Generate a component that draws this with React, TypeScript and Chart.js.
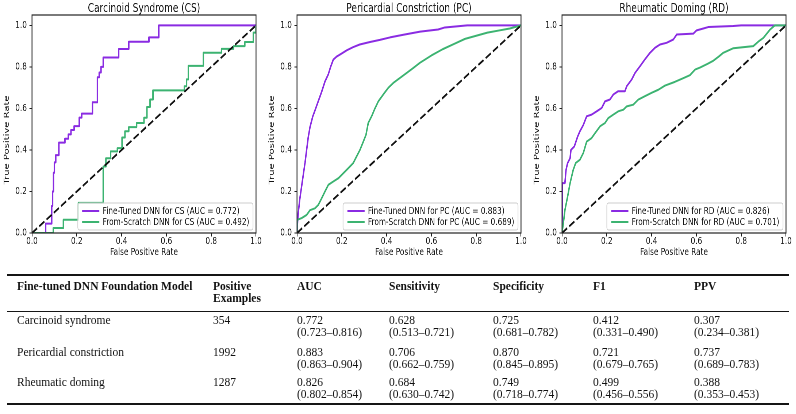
import React, { useEffect, useRef } from "react";
import { Chart, registerables } from "chart.js";

Chart.register(...registerables);

// ---------- chart data ----------
const TITLES = ["Carcinoid Syndrome (CS)", "Pericardial Constriction (PC)", "Rheumatic Doming (RD)"];
const X_TITLE = "False Positive Rate";
const Y_TITLE = "True Positive Rate";
const X_TICKS = [0, 0.2, 0.4, 0.6, 0.8, 1.0];
const Y_TICKS = [0, 0.2, 0.4, 0.6, 0.8, 1.0];
const TICK_LABELS = ["0.0", "0.2", "0.4", "0.6", "0.8", "1.0"];
const FT_LABELS = [
  "Fine-Tuned DNN for CS (AUC = 0.772)",
  "Fine-Tuned DNN for PC (AUC = 0.883)",
  "Fine-Tuned DNN for RD (AUC = 0.826)",
];
const FS_LABELS = [
  "From-Scratch DNN for CS (AUC = 0.492)",
  "From-Scratch DNN for PC (AUC = 0.689)",
  "From-Scratch DNN for RD (AUC = 0.701)",
];

const CS_FT_FPR = [0, 0.061, 0.061, 0.088, 0.088, 0.092, 0.092, 0.096, 0.096, 0.1, 0.1, 0.106, 0.106, 0.12, 0.12, 0.147, 0.147, 0.162, 0.162, 0.174, 0.174, 0.188, 0.188, 0.211, 0.211, 0.222, 0.222, 0.27, 0.27, 0.292, 0.292, 0.3, 0.3, 0.308, 0.308, 0.318, 0.318, 0.387, 0.387, 0.432, 0.432, 0.522, 0.522, 0.566, 0.566, 1.0];
const CS_FT_TPR = [0, 0, 0.045, 0.045, 0.13, 0.13, 0.2, 0.2, 0.29, 0.29, 0.34, 0.34, 0.375, 0.375, 0.435, 0.435, 0.454, 0.454, 0.475, 0.475, 0.496, 0.496, 0.515, 0.515, 0.556, 0.556, 0.575, 0.575, 0.63, 0.63, 0.75, 0.75, 0.773, 0.773, 0.8, 0.8, 0.845, 0.845, 0.886, 0.886, 0.921, 0.921, 0.942, 0.942, 1.0, 1.0];

const CS_FS_FPR = [0, 0.095, 0.095, 0.14, 0.14, 0.207, 0.207, 0.318, 0.318, 0.33, 0.33, 0.351, 0.351, 0.381, 0.381, 0.402, 0.402, 0.415, 0.415, 0.432, 0.432, 0.467, 0.467, 0.5, 0.5, 0.513, 0.513, 0.527, 0.527, 0.54, 0.54, 0.68, 0.68, 0.69, 0.69, 0.698, 0.698, 0.765, 0.765, 0.846, 0.846, 0.9, 0.9, 0.95, 0.95, 0.988, 0.988, 1.0, 1.0];
const CS_FS_TPR = [0, 0, 0.024, 0.024, 0.064, 0.064, 0.145, 0.145, 0.32, 0.32, 0.36, 0.36, 0.393, 0.393, 0.409, 0.409, 0.46, 0.46, 0.49, 0.49, 0.51, 0.51, 0.53, 0.53, 0.555, 0.555, 0.607, 0.607, 0.643, 0.643, 0.687, 0.687, 0.707, 0.707, 0.74, 0.74, 0.805, 0.805, 0.868, 0.868, 0.887, 0.887, 0.9, 0.9, 0.92, 0.92, 0.965, 0.965, 1.0];

const PC_FT_FPR = [0, 0.003, 0.006, 0.012, 0.02, 0.028, 0.036, 0.043, 0.05, 0.058, 0.07, 0.08, 0.095, 0.11, 0.125, 0.14, 0.15, 0.162, 0.177, 0.2, 0.222, 0.25, 0.28, 0.326, 0.37, 0.415, 0.475, 0.55, 0.63, 0.66, 0.76, 1.0];
const PC_FT_TPR = [0, 0.06, 0.1, 0.16, 0.22, 0.28, 0.34, 0.4, 0.46, 0.51, 0.56, 0.59, 0.635, 0.68, 0.73, 0.765, 0.8, 0.835, 0.85, 0.865, 0.88, 0.895, 0.908, 0.92, 0.93, 0.942, 0.955, 0.97, 0.98, 0.99, 1.0, 1.0];

const PC_FS_FPR = [0, 0, 0.021, 0.043, 0.058, 0.08, 0.095, 0.11, 0.125, 0.14, 0.162, 0.185, 0.207, 0.229, 0.251, 0.266, 0.281, 0.296, 0.308, 0.318, 0.333, 0.348, 0.363, 0.385, 0.408, 0.43, 0.46, 0.49, 0.519, 0.549, 0.6, 0.65, 0.7, 0.75, 0.8, 0.85, 0.9, 0.95, 1.0];
const PC_FS_TPR = [0, 0.063, 0.072, 0.087, 0.11, 0.119, 0.135, 0.167, 0.2, 0.232, 0.248, 0.264, 0.288, 0.312, 0.337, 0.369, 0.4, 0.44, 0.473, 0.53, 0.562, 0.6, 0.634, 0.667, 0.7, 0.723, 0.747, 0.771, 0.795, 0.82, 0.855, 0.885, 0.91, 0.935, 0.95, 0.965, 0.975, 0.985, 1.0];

const RD_FT_FPR = [0, 0.0015, 0.013, 0.018, 0.025, 0.036, 0.04, 0.055, 0.07, 0.08, 0.095, 0.11, 0.132, 0.155, 0.177, 0.192, 0.214, 0.229, 0.251, 0.281, 0.289, 0.311, 0.326, 0.348, 0.37, 0.393, 0.415, 0.4375, 0.467, 0.497, 0.512, 0.586, 0.601, 0.631, 0.653, 0.765, 0.8, 1.0];
const RD_FT_TPR = [0, 0.24, 0.24, 0.304, 0.337, 0.36, 0.4, 0.417, 0.465, 0.49, 0.52, 0.562, 0.57, 0.586, 0.602, 0.634, 0.643, 0.667, 0.683, 0.683, 0.707, 0.739, 0.771, 0.803, 0.836, 0.868, 0.892, 0.908, 0.916, 0.932, 0.956, 0.96, 0.976, 0.985, 0.992, 0.997, 1.0, 1.0];

const RD_FS_FPR = [0, 0.006, 0.013, 0.025, 0.036, 0.05, 0.061, 0.08, 0.095, 0.11, 0.132, 0.147, 0.17, 0.192, 0.207, 0.229, 0.251, 0.274, 0.289, 0.318, 0.341, 0.37, 0.4, 0.43, 0.46, 0.504, 0.54, 0.571, 0.594, 0.616, 0.65, 0.676, 0.7, 0.72, 0.765, 0.854, 0.88, 0.899, 0.929, 0.95, 1.0];
const RD_FS_TPR = [0, 0.047, 0.11, 0.175, 0.24, 0.304, 0.337, 0.353, 0.385, 0.44, 0.457, 0.48, 0.514, 0.53, 0.554, 0.57, 0.586, 0.594, 0.61, 0.618, 0.643, 0.659, 0.675, 0.69, 0.71, 0.728, 0.745, 0.76, 0.787, 0.797, 0.815, 0.83, 0.85, 0.868, 0.89, 0.9, 0.925, 0.94, 0.98, 1.0, 1.0];

const CHANCE_X = [0, 1];
const CHANCE_Y = [0, 1];

// ---------- table data ----------
const TABLE_HEADERS = ["Fine-tuned DNN Foundation Model", "Positive\nExamples", "AUC", "Sensitivity", "Specificity", "F1", "PPV"];
const MODELS = ["Carcinoid syndrome", "Pericardial constriction", "Rheumatic doming"];
const POSITIVES = [354, 1992, 1287];
const AUC = [0.772, 0.883, 0.826];
const AUC_CI = [[0.723, 0.816], [0.863, 0.904], [0.802, 0.854]];
const SENS = [0.628, 0.706, 0.684];
const SENS_CI = [[0.513, 0.721], [0.662, 0.759], [0.630, 0.742]];
const SPEC = [0.725, 0.870, 0.749];
const SPEC_CI = [[0.681, 0.782], [0.845, 0.895], [0.718, 0.774]];
const F1 = [0.412, 0.721, 0.499];
const F1_CI = [[0.331, 0.490], [0.679, 0.765], [0.456, 0.556]];
const PPV = [0.307, 0.737, 0.388];
const PPV_CI = [[0.234, 0.381], [0.689, 0.783], [0.353, 0.453]];

// ---------- layout / style ----------
const SQ = 0.73; // horizontal squeeze of the plot images
const CW = 363; // canvas width (unsqueezed)
const CH = 262;
const CHART_LEFTS = [0, 265, 530];
const PLOT_LEFT = 32 / SQ;
const PLOT_RIGHT = 256 / SQ;
const PLOT_BOTTOM = 233;
const PURPLE = "#8a2be2";
const GREEN = "#3cb371";
const TEXT = "#151515";
const FONT = "'DejaVu Sans', sans-serif";

const COL_X = [17, 213, 297, 389, 493, 593, 694];
const HEADER_TOP = 279.5;
const ROW_TOPS = [314, 345.5, 376];

function pts(xs: number[], ys: number[]) {
  return xs.map((x, i) => ({ x, y: ys[i] }));
}

const CHART_SERIES = [
  { ftX: CS_FT_FPR, ftY: CS_FT_TPR, fsX: CS_FS_FPR, fsY: CS_FS_TPR },
  { ftX: PC_FT_FPR, ftY: PC_FT_TPR, fsX: PC_FS_FPR, fsY: PC_FS_TPR },
  { ftX: RD_FT_FPR, ftY: RD_FT_TPR, fsX: RD_FS_FPR, fsY: RD_FS_TPR },
];

const framePlugin = {
  id: "frame",
  afterDatasetsDraw(chart: any) {
    const { ctx, chartArea: a } = chart;
    ctx.save();
    ctx.strokeStyle = "#222";
    ctx.lineWidth = 1.2;
    ctx.strokeRect(a.left, a.top, a.right - a.left, a.bottom - a.top);
    ctx.restore();
  },
};

const yTitlePlugin = {
  id: "ytitle",
  afterDraw(chart: any) {
    const { ctx } = chart;
    ctx.save();
    ctx.translate(7 / SQ, 140);
    ctx.rotate(-Math.PI / 2);
    ctx.font = `10px ${FONT}`;
    ctx.fillStyle = TEXT;
    ctx.textAlign = "center";
    ctx.textBaseline = "middle";
    ctx.fillText(Y_TITLE, 0, 0);
    ctx.restore();
  },
};

const boxLegendPlugin = {
  id: "boxlegend",
  afterDraw(chart: any) {
    const { ctx, chartArea: a } = chart;
    const items = chart.data.datasets.filter((d: any) => d.label).sort((p: any, q: any) => q.order - p.order);
    ctx.save();
    ctx.font = `10px ${FONT}`;
    const textW = Math.max(...items.map((d: any) => ctx.measureText(d.label).width));
    const padL = 6, handle = 23.5, gap = 4.5, padR = 5, rowH = 11, padV = 8;
    const w = padL + handle + gap + textW + padR;
    const h = padV * 2 + rowH * (items.length - 1);
    const right = a.right - 4.1;
    const bottom = a.bottom - 3;
    const left = right - w;
    const top = bottom - h;
    ctx.beginPath();
    ctx.roundRect(left, top, w, h, 2.5);
    ctx.fillStyle = "rgba(255,255,255,0.8)";
    ctx.fill();
    ctx.strokeStyle = "#cccccc";
    ctx.lineWidth = 1;
    ctx.stroke();
    items.forEach((d: any, i: number) => {
      const y = top + padV + i * rowH;
      ctx.beginPath();
      ctx.moveTo(left + padL, y);
      ctx.lineTo(left + padL + handle, y);
      ctx.strokeStyle = d.borderColor;
      ctx.lineWidth = 2;
      ctx.stroke();
      ctx.fillStyle = TEXT;
      ctx.textAlign = "left";
      ctx.textBaseline = "middle";
      ctx.fillText(d.label, left + padL + handle + gap, y + 0.5);
    });
    ctx.restore();
  },
};

function makeConfig(i: number): any {
  const s = CHART_SERIES[i];
  const tickFont = { family: FONT, size: 10, lineHeight: 1 };
  return {
    type: "scatter",
    data: {
      datasets: [
        {
          label: "",
          data: pts(CHANCE_X, CHANCE_Y),
          showLine: true,
          borderColor: "#111111",
          borderWidth: 2,
          borderDash: [8.5, 3.5],
          pointRadius: 0,
          order: 0,
        },
        {
          label: FS_LABELS[i],
          data: pts(s.fsX, s.fsY),
          showLine: true,
          borderColor: GREEN,
          borderWidth: 2,
          borderJoinStyle: "round",
          pointRadius: 0,
          order: 1,
        },
        {
          label: FT_LABELS[i],
          data: pts(s.ftX, s.ftY),
          showLine: true,
          borderColor: PURPLE,
          borderWidth: 2,
          borderJoinStyle: "round",
          pointRadius: 0,
          order: 2,
        },
      ],
    },
    options: {
      animation: false,
      responsive: false,
      maintainAspectRatio: false,
      devicePixelRatio: 2,
      layout: { autoPadding: false, padding: { left: 0, right: CW - PLOT_RIGHT, top: 0, bottom: 0 } },
      plugins: {
        legend: { display: false },
        tooltip: { enabled: false },
        title: {
          display: true,
          text: TITLES[i],
          fullSize: false,
          color: TEXT,
          font: { family: FONT, size: 12.3, weight: "normal", lineHeight: "12px" },
          padding: { top: 3, bottom: 0 },
        },
      },
      scales: {
        x: {
          type: "linear",
          min: 0,
          max: 1,
          afterBuildTicks: (sc: any) => {
            sc.ticks = X_TICKS.map((v) => ({ value: v }));
          },
          afterFit: (sc: any) => {
            sc.height = CH - PLOT_BOTTOM;
          },
          ticks: {
            callback: (_v: any, idx: number) => TICK_LABELS[idx],
            color: TEXT,
            font: tickFont,
            padding: 0,
            maxRotation: 0,
            autoSkip: false,
          },
          grid: { display: true, drawOnChartArea: false, drawTicks: true, tickLength: 3.5, color: "#222" },
          border: { display: false },
          title: {
            display: true,
            text: X_TITLE,
            color: TEXT,
            font: { family: FONT, size: 10, lineHeight: 1.2 },
            padding: { top: 0, bottom: 3.7 },
          },
        },
        y: {
          type: "linear",
          min: 0,
          max: 1.05,
          afterBuildTicks: (sc: any) => {
            sc.ticks = Y_TICKS.map((v) => ({ value: v }));
          },
          afterFit: (sc: any) => {
            sc.width = PLOT_LEFT;
          },
          ticks: {
            callback: (_v: any, idx: number) => TICK_LABELS[idx],
            color: TEXT,
            font: tickFont,
            padding: 3.5,
            autoSkip: false,
          },
          grid: { display: true, drawOnChartArea: false, drawTicks: true, tickLength: 3.5, color: "#222" },
          border: { display: false },
          title: { display: false },
        },
      },
    },
    plugins: [framePlugin, yTitlePlugin, boxLegendPlugin],
  };
}

function RocChart({ index }: { index: number }) {
  const ref = useRef<HTMLCanvasElement | null>(null);
  useEffect(() => {
    if (!ref.current) return;
    const chart = new Chart(ref.current, makeConfig(index));
    return () => chart.destroy();
  }, [index]);
  return (
    <div
      style={{
        position: "absolute",
        left: CHART_LEFTS[index],
        top: 0,
        width: CW,
        height: CH,
        transform: `scaleX(${SQ})`,
        transformOrigin: "0 0",
      }}
    >
      <canvas ref={ref} width={CW} height={CH} style={{ display: "block", width: CW, height: CH }} />
    </div>
  );
}

const fmt = (v: number) => v.toFixed(3);
const fmtCI = (ci: number[]) => `(${ci[0].toFixed(3)}–${ci[1].toFixed(3)})`;

function Cell({ x, y, bold, lines }: { x: number; y: number; bold?: boolean; lines: string[] }) {
  return (
    <div
      style={{
        position: "absolute",
        left: x,
        top: y,
        fontWeight: bold ? "bold" : "normal",
        whiteSpace: "nowrap",
        lineHeight: "12px",
      }}
    >
      {lines.map((l, k) => (
        <div key={k}>{l}</div>
      ))}
    </div>
  );
}

function MetricsTable() {
  const rows = MODELS.map((m, r) => [
    [m],
    [String(POSITIVES[r])],
    [fmt(AUC[r]), fmtCI(AUC_CI[r])],
    [fmt(SENS[r]), fmtCI(SENS_CI[r])],
    [fmt(SPEC[r]), fmtCI(SPEC_CI[r])],
    [fmt(F1[r]), fmtCI(F1_CI[r])],
    [fmt(PPV[r]), fmtCI(PPV_CI[r])],
  ]);
  const rule = (top: number, h: number) => (
    <div style={{ position: "absolute", left: 7, width: 782, top, height: h, background: "#151515" }} />
  );
  return (
    <div style={{ position: "absolute", left: 0, top: 0, width: 796, height: 414, fontFamily: "'Liberation Serif', 'Times New Roman', serif", fontSize: 11.5, color: "#111" }}>
      {rule(274.3, 2)}
      {rule(310.8, 1.6)}
      {rule(402.8, 2)}
      {TABLE_HEADERS.map((h, j) => (
        <Cell key={"h" + j} x={COL_X[j]} y={HEADER_TOP} bold lines={h.split("\n")} />
      ))}
      {rows.map((row, r) =>
        row.map((lines, j) => <Cell key={r + "-" + j} x={COL_X[j]} y={ROW_TOPS[r]} lines={lines} />)
      )}
    </div>
  );
}

export default function App() {
  return (
    <div style={{ position: "absolute", left: 0, top: 0, width: 796, height: 414, overflow: "hidden", background: "#fff" }}>
      <RocChart index={0} />
      <RocChart index={1} />
      <RocChart index={2} />
      <MetricsTable />
    </div>
  );
}
